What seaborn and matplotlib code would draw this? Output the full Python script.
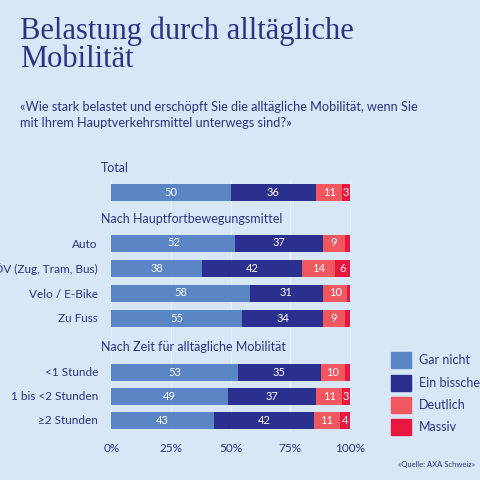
import matplotlib
matplotlib.use("Agg")
import matplotlib.pyplot as plt
import seaborn as sns
import numpy as np
from matplotlib.patches import Patch

rows = ["Total", "Auto", "ÖV (Zug, Tram, Bus)", "Velo / E-Bike", "Zu Fuss",
        "<1 Stunde", "1 bis <2 Stunden", "≥2 Stunden"]
row_labels = ["", "Auto", "ÖV (Zug, Tram, Bus)", "Velo / E-Bike", "Zu Fuss",
              "<1 Stunde", "1 bis <2 Stunden", "≥2 Stunden"]
series = ["Gar nicht", "Ein bisschen", "Deutlich", "Massiv"]
gar_nicht = [50, 52, 38, 58, 55, 53, 49, 43]
ein_bisschen = [36, 37, 42, 31, 34, 35, 37, 42]
deutlich = [11, 9, 14, 10, 9, 10, 11, 11]
massiv = [3, 2, 6, 1, 2, 2, 3, 4]
groups = ["Total", "Nach Hauptfortbewegungsmittel", "Nach Zeit für alltägliche Mobilität"]
xticks = [0, 25, 50, 75, 100]
xticklabels = ["0%", "25%", "50%", "75%", "100%"]

colors = ["#5b86c5", "#2b2f8e", "#f0575f", "#e8173f"]
bg = "#d7e7f6"
navy = "#2a3482"

sns.set_theme(style="white")
plt.rcParams['font.family'] = ['Lato', 'DejaVu Sans']

fig = plt.figure(figsize=(4.8, 4.8), dpi=100, facecolor=bg)
ax = fig.add_axes([109/480, 1-432/480, 243/480, 252/480], facecolor=bg)

ypos = [192, 243, 268, 293, 318, 372, 396, 420]
vals = np.array([gar_nicht, ein_bisschen, deutlich, massiv])
left = np.zeros(len(rows))
for i, s in enumerate(series):
    ax.barh(ypos, vals[i], left=left, height=17, color=colors[i], label=s,
            linewidth=0, zorder=3)
    for y, l, v in zip(ypos, left, vals[i]):
        if v >= 3:
            ax.text(l + v/2, y, str(v), ha="center", va="center", color="white",
                    fontsize=8, zorder=4)
    left += vals[i]

ax.set_xlim(-1, 101)
ax.set_ylim(432, 180)
ax.set_xticks(xticks)
ax.set_xticklabels(xticklabels, color=navy, fontsize=8.5)
ax.set_yticks(ypos)
ax.set_yticklabels(row_labels, color=navy, fontsize=8.5)
ax.tick_params(length=0, pad=8)
for x in xticks:
    ax.axvline(x, color="#e6eff9", lw=0.8, zorder=1)
for sp in ax.spines.values():
    sp.set_visible(False)

for g, yy in zip(groups, [168, 219, 347]):
    fig.text(101/480, 1-yy/480, g, color=navy, fontsize=9, va="center")

fig.text(20/480, 1-45/480, "Belastung durch alltägliche\nMobilität", family="Liberation Serif",
         fontsize=22, color=navy, va="center", linespacing=0.95)
fig.text(20/480, 1-115/480, "«Wie stark belastet und erschöpft Sie die alltägliche Mobilität, wenn Sie\nmit Ihrem Hauptverkehrsmittel unterwegs sind?»",
         fontsize=9.2, color=navy, va="center", linespacing=1.35)

handles = [Patch(color=c, label=s) for c, s in zip(colors, series)]
fig.legend(handles=handles, loc="upper left", bbox_to_anchor=(380/480, 1-341/480),
           frameon=False, fontsize=9, labelcolor=navy, handlelength=1.6, handleheight=1.6,
           labelspacing=0.5, handletextpad=0.6)

fig.text(475/480, 1-467/480, "«Quelle: AXA Schweiz»", fontsize=5.5, color=navy, ha="right")

fig.savefig("out.png", dpi=100, facecolor=bg)
